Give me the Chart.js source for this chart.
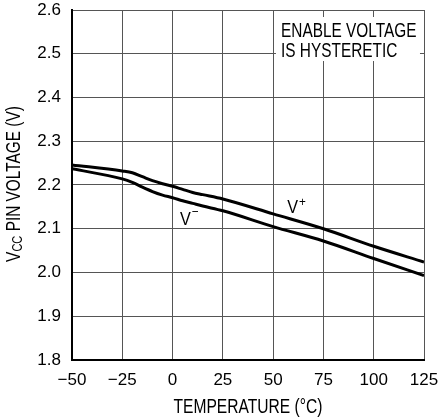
<!DOCTYPE html>
<html><head><meta charset="utf-8">
<script src="https://cdn.jsdelivr.net/npm/chart.js@4.4.1/dist/chart.umd.min.js"></script>
<style>html,body{margin:0;padding:0;background:#fff}#wrap{width:439px;height:420px;position:relative}</style>
</head><body><div id="wrap"><canvas id="c" width="439" height="420"></canvas></div>
<script>
const temps = [-50, -25, -20, -15, -10, -5, 0, 5, 10, 15, 25, 50, 75, 100, 125];
const vPlus  = [2.246, 2.232, 2.228, 2.219, 2.210, 2.203, 2.197, 2.190, 2.183, 2.178, 2.168, 2.134, 2.100, 2.060, 2.024];
const vMinus = [2.237, 2.214, 2.206, 2.195, 2.185, 2.177, 2.171, 2.164, 2.158, 2.152, 2.141, 2.105, 2.072, 2.032, 1.993];
const xTicks = [-50, -25, 0, 25, 50, 75, 100, 125];
const yTicks = [1.8, 1.9, 2.0, 2.1, 2.2, 2.3, 2.4, 2.5, 2.6];
const noteLines = ['ENABLE VOLTAGE', 'IS HYSTERETIC'];
const FONT = '"Liberation Sans", Arial, sans-serif';

const pts = a => temps.map((t, i) => ({x: t, y: a[i]}));

// draw horizontally condensed text; returns drawn width
function narrowText(ctx, txt, x, y, size, sx, align) {
  ctx.font = size + 'px ' + FONT;
  const w = ctx.measureText(txt).width * sx;
  let x0 = x;
  if (align === 'center') x0 = x - w / 2;
  ctx.save();
  ctx.translate(x0, y);
  ctx.scale(sx, 1);
  ctx.textAlign = 'left';
  ctx.textBaseline = 'alphabetic';
  ctx.fillText(txt, 0, 0);
  ctx.restore();
  return w;
}

const overlay = {
  id: 'overlay',
  afterDatasetsDraw(chart) {
    const ctx = chart.ctx, xs = chart.scales.x, ys = chart.scales.y, ca = chart.chartArea;
    ctx.save();
    // note box
    const bx0 = xs.getPixelForValue(51.4), bx1 = xs.getPixelForValue(123.0);
    const by0 = ys.getPixelForValue(2.584), by1 = ys.getPixelForValue(2.4834);
    ctx.fillStyle = '#fff';
    ctx.fillRect(bx0, by0, bx1 - bx0, by1 - by0);
    ctx.fillStyle = '#000';
    narrowText(ctx, noteLines[0], xs.getPixelForValue(53.9), ys.getPixelForValue(2.539), 20, 0.77);
    narrowText(ctx, noteLines[1], xs.getPixelForValue(53.9), ys.getPixelForValue(2.4935), 20, 0.77);
    // series labels
    function vlabel(sup, xv, yv, supDy) {
      const x = xs.getPixelForValue(xv), y = ys.getPixelForValue(yv);
      const w = narrowText(ctx, 'V', x, y, 18, 0.9);
      narrowText(ctx, sup, x + w + 1, y + supDy, 13, 0.9);
    }
    vlabel('+', 57.0, 2.135, -7);
    vlabel('\u2212', 3.7, 2.1086, -9);
    // x title
    narrowText(ctx, 'TEMPERATURE (\u00B0C)', (ca.left + ca.right) / 2, 412.5, 19.5, 0.8, 'center');
    // y title
    ctx.translate(20, (ca.top + ca.bottom) / 2 - 1);
    ctx.rotate(-Math.PI / 2);
    const sx = 0.79;
    const parts = [['V', 19.5, 0], ['CC', 14, 1.5], [' PIN VOLTAGE (V)', 19.5, 0]];
    let total = 0;
    parts.forEach(p => { ctx.font = p[1] + 'px ' + FONT; total += ctx.measureText(p[0]).width * sx; });
    let cx = -total / 2;
    parts.forEach(p => { cx += narrowText(ctx, p[0], cx, p[2], p[1], sx); });
    ctx.restore();
  }
};

new Chart(document.getElementById('c'), {
  type: 'line',
  data: {
    datasets: [
      {label: 'V+', data: pts(vPlus), borderColor: '#000', borderWidth: 3, pointRadius: 0, cubicInterpolationMode: 'monotone', fill: false},
      {label: 'V-', data: pts(vMinus), borderColor: '#000', borderWidth: 3, pointRadius: 0, cubicInterpolationMode: 'monotone', fill: false}
    ]
  },
  options: {
    responsive: false,
    animation: false,
    devicePixelRatio: 1,
    layout: {padding: {top: 10, right: 15, left: 0, bottom: 0}},
    plugins: {legend: {display: false}, tooltip: {enabled: false}},
    scales: {
      x: {
        type: 'linear', min: -50, max: 125,
        afterBuildTicks: s => { s.ticks = xTicks.map(v => ({value: v})); },
        afterFit: s => { s.height = 60; s.paddingLeft = 0; s.paddingRight = 0; },
        grid: {color: '#555', lineWidth: 1, drawTicks: false},
        border: {color: '#000', width: 2},
        ticks: {color: '#000', padding: 10, font: {size: 17, family: FONT},
          callback: v => v < 0 ? '\u2212' + Math.abs(v) : String(v), maxRotation: 0, autoSkip: false}
      },
      y: {
        type: 'linear', min: 1.8, max: 2.6,
        afterBuildTicks: s => { s.ticks = yTicks.map(v => ({value: v})); },
        afterFit: s => { s.width = 72; s.paddingTop = 0; s.paddingBottom = 0; },
        grid: {color: '#555', lineWidth: 1, drawTicks: false},
        border: {color: '#000', width: 2},
        ticks: {color: '#000', padding: 11, font: {size: 17, family: FONT},
          callback: v => v.toFixed(1)}
      }
    }
  },
  plugins: [overlay]
});
</script></body></html>
